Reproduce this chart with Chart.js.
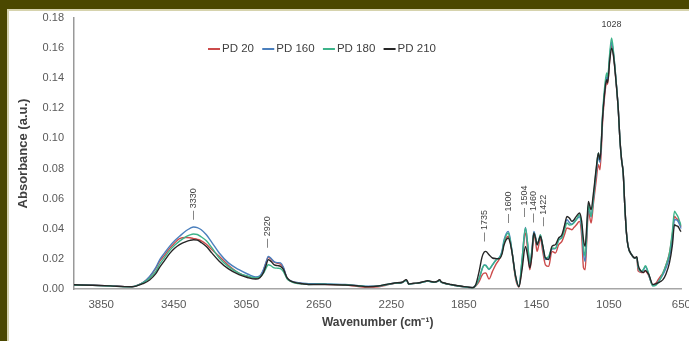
<!DOCTYPE html>
<html>
<head>
<meta charset="utf-8">
<script src="https://cdn.jsdelivr.net/npm/chart.js@4.4.1/dist/chart.umd.min.js"></script>
<style>
  html, body { margin: 0; padding: 0; width: 689px; height: 341px; overflow: hidden; background: #4b4800; }
  #panel { position: absolute; left: 7px; top: 9px; width: 720px; height: 360px; background: #fff; border-top: 2px solid #d6d3ad; border-left: 2px solid #d6d3ad; }
  #wrap { position: absolute; left: 0; top: 0; width: 700px; height: 341px; }
</style>
</head>
<body>
<div id="panel"></div>
<div id="wrap"><canvas id="chart"></canvas></div>
<script>
// Espectros FTIR (absorbancia vs numero de onda)
const wavenumbers = [
  4000, 3900, 3800, 3720, 3680, 3650, 3620, 3583, 3550, 3527, 3500, 3473, 3445, 3418, 3382, 3360, 3340, 3320, 3300, 3270, 3240, 3199, 3150, 3090, 3040,
  2998, 2975, 2955, 2940, 2929, 2915, 2895, 2875, 2861, 2845, 2825, 2800, 2779, 2740, 2706,
  2651, 2600, 2505, 2440, 2377, 2322, 2280, 2231, 2190, 2167, 2160, 2154, 2130, 2103, 2075, 2049, 2030, 2012, 1995, 1984, 1975, 1957, 1920, 1880, 1847, 1820, 1800,
  1784, 1765, 1750, 1738, 1729, 1711, 1692, 1670, 1656, 1640, 1628, 1605, 1595, 1583, 1565, 1546,
  1530, 1510, 1498, 1486, 1475, 1464, 1455, 1446, 1437, 1428, 1415, 1400, 1382, 1364, 1345, 1327, 1309,
  1295, 1281, 1267, 1254, 1242, 1230, 1212, 1200, 1190, 1181, 1172, 1163, 1148, 1135, 1120, 1108, 1099,
  1084, 1070, 1062, 1057, 1045, 1035, 1025, 1010, 998, 989, 980, 971, 962, 953, 944, 925, 907,
  896, 889, 871, 860, 848, 838, 829, 808, 790, 779, 765, 752, 735, 716, 700, 688, 679, 669, 657, 650
];

const pd20 = [
  0.0027, 0.0025, 0.0021, 0.0016, 0.0016, 0.0025, 0.0042, 0.008, 0.0135, 0.0185, 0.0225, 0.027, 0.0305, 0.0335, 0.0342, 0.034, 0.0335, 0.033, 0.0322, 0.0297, 0.0262, 0.0217, 0.016, 0.0106, 0.0082,
  0.007, 0.008, 0.0125, 0.018, 0.021, 0.02, 0.0178, 0.017, 0.0165, 0.014, 0.007, 0.005, 0.0043, 0.0036, 0.0032,
  0.0032, 0.003, 0.0026, 0.0018, 0.0011, 0.0014, 0.0025, 0.0037, 0.0043, 0.006, 0.0046, 0.0032, 0.0036, 0.0039, 0.0046, 0.0053, 0.0048, 0.0044, 0.005, 0.006, 0.0046, 0.0038, 0.0028, 0.002, 0.0014, 0.001, 0.0008,
  0.002, 0.005, 0.009, 0.0105, 0.0106, 0.0066, 0.0117, 0.017, 0.0195, 0.024, 0.0305, 0.035, 0.032, 0.0235, 0.007, 0.0013,
  0.015, 0.0372, 0.026, 0.0128, 0.022, 0.0361, 0.032, 0.025, 0.029, 0.0339, 0.025, 0.0161, 0.015, 0.025, 0.0239, 0.0294, 0.0316,
  0.036, 0.0405, 0.040, 0.0394, 0.041, 0.0425, 0.0449, 0.035, 0.014, 0.0128, 0.032, 0.0516, 0.0438, 0.057, 0.072, 0.0826, 0.0792,
  0.112, 0.132, 0.138, 0.136, 0.153, 0.162, 0.156, 0.137, 0.119, 0.099, 0.0859, 0.077, 0.0549, 0.0372, 0.0283, 0.0228, 0.0206,
  0.0205, 0.012, 0.011, 0.011, 0.012, 0.0105, 0.0085, 0.0025, 0.004, 0.006, 0.0085, 0.0106, 0.016, 0.0239, 0.036, 0.0482, 0.047, 0.046, 0.043, 0.041
];

const pd160 = [
  0.0027, 0.0025, 0.0021, 0.0016, 0.0016, 0.0025, 0.0042, 0.0084, 0.014, 0.0195, 0.024, 0.0283, 0.032, 0.035, 0.0387, 0.0403, 0.0412, 0.0408, 0.0395, 0.036, 0.031, 0.0239, 0.0175, 0.0128, 0.0098,
  0.008, 0.0088, 0.013, 0.018, 0.0217, 0.0205, 0.018, 0.0175, 0.0173, 0.0145, 0.0073, 0.0052, 0.0045, 0.0038, 0.0035,
  0.0035, 0.0034, 0.003, 0.0024, 0.0018, 0.002, 0.0028, 0.0038, 0.0043, 0.0058, 0.0046, 0.0032, 0.0036, 0.0039, 0.0046, 0.0052, 0.0048, 0.0044, 0.005, 0.0058, 0.0046, 0.0038, 0.0028, 0.002, 0.0014, 0.001, 0.0009,
  0.0025, 0.007, 0.013, 0.016, 0.0158, 0.013, 0.016, 0.0198, 0.0206, 0.025, 0.0327, 0.0383, 0.034, 0.0239, 0.0084, 0.0017,
  0.018, 0.0408, 0.03, 0.0168, 0.025, 0.0383, 0.035, 0.0294, 0.032, 0.0358, 0.028, 0.0195, 0.0205, 0.0265, 0.0268, 0.0325, 0.0345,
  0.041, 0.046, 0.044, 0.043, 0.0445, 0.046, 0.048, 0.04, 0.0239, 0.0183, 0.036, 0.055, 0.048, 0.06, 0.077, 0.088, 0.084,
  0.116, 0.135, 0.141, 0.139, 0.155, 0.164, 0.157, 0.138, 0.119, 0.099, 0.0859, 0.077, 0.0549, 0.0372, 0.0283, 0.0228, 0.0206,
  0.021, 0.0145, 0.0115, 0.0125, 0.015, 0.0125, 0.009, 0.0025, 0.003, 0.0045, 0.007, 0.0095, 0.014, 0.021, 0.032, 0.046, 0.046, 0.045, 0.042, 0.04
];

const pd180 = [
  0.0026, 0.0024, 0.002, 0.0015, 0.0015, 0.0024, 0.004, 0.0072, 0.0115, 0.0165, 0.021, 0.0255, 0.029, 0.0318, 0.0348, 0.036, 0.0365, 0.0362, 0.0348, 0.032, 0.0275, 0.0206, 0.015, 0.0106, 0.0085,
  0.0073, 0.008, 0.0105, 0.014, 0.0161, 0.0155, 0.014, 0.0138, 0.0135, 0.0115, 0.0068, 0.0048, 0.004, 0.0034, 0.003,
  0.0032, 0.0031, 0.0028, 0.0022, 0.0016, 0.0019, 0.0028, 0.0038, 0.0043, 0.0058, 0.0046, 0.0032, 0.0036, 0.0039, 0.0046, 0.0052, 0.0048, 0.0044, 0.005, 0.0058, 0.0046, 0.0038, 0.0028, 0.002, 0.0014, 0.001, 0.0008,
  0.0025, 0.007, 0.013, 0.0158, 0.0155, 0.0133, 0.0161, 0.0195, 0.0206, 0.024, 0.0316, 0.0372, 0.033, 0.0239, 0.0084, 0.0017,
  0.018, 0.0405, 0.03, 0.0173, 0.025, 0.0372, 0.034, 0.0294, 0.032, 0.036, 0.029, 0.0206, 0.0217, 0.0272, 0.027, 0.0327, 0.034,
  0.039, 0.0438, 0.0425, 0.0427, 0.044, 0.046, 0.0493, 0.042, 0.028, 0.0217, 0.038, 0.056, 0.0482, 0.061, 0.079, 0.0903, 0.086,
  0.118, 0.138, 0.1435, 0.141, 0.157, 0.1667, 0.158, 0.138, 0.119, 0.099, 0.0859, 0.077, 0.0549, 0.0372, 0.0283, 0.0228, 0.0206,
  0.021, 0.015, 0.0117, 0.013, 0.0155, 0.013, 0.0095, 0.002, 0.0025, 0.004, 0.007, 0.0106, 0.016, 0.0239, 0.038, 0.0516, 0.05, 0.048, 0.044, 0.042
];

const pd210 = [
  0.0028, 0.0025, 0.0021, 0.0016, 0.0015, 0.0022, 0.0035, 0.006, 0.010, 0.0145, 0.019, 0.0235, 0.027, 0.0295, 0.0315, 0.0323, 0.0327, 0.0325, 0.031, 0.0282, 0.024, 0.0185, 0.0135, 0.0095, 0.0075,
  0.0066, 0.0075, 0.011, 0.016, 0.0195, 0.0185, 0.016, 0.0155, 0.015, 0.013, 0.0075, 0.005, 0.0042, 0.0035, 0.003,
  0.003, 0.0029, 0.0027, 0.0022, 0.0016, 0.002, 0.003, 0.004, 0.0045, 0.0062, 0.0048, 0.0033, 0.0038, 0.004, 0.0048, 0.0055, 0.005, 0.0046, 0.0052, 0.0062, 0.0048, 0.004, 0.003, 0.0022, 0.0016, 0.0012, 0.001,
  0.003, 0.012, 0.021, 0.0245, 0.025, 0.0228, 0.0206, 0.0202, 0.0201, 0.023, 0.0294, 0.0339, 0.031, 0.0235, 0.009, 0.0015,
  0.012, 0.0283, 0.022, 0.014, 0.022, 0.0372, 0.034, 0.0294, 0.032, 0.035, 0.029, 0.0206, 0.0195, 0.0283, 0.0294, 0.0339, 0.036,
  0.042, 0.0482, 0.047, 0.0449, 0.046, 0.0482, 0.0505, 0.045, 0.0327, 0.0283, 0.042, 0.0582, 0.0527, 0.0638, 0.08, 0.0903, 0.0859,
  0.115, 0.134, 0.139, 0.137, 0.152, 0.160, 0.155, 0.137, 0.119, 0.099, 0.0859, 0.077, 0.0549, 0.0372, 0.0283, 0.0228, 0.0206,
  0.0215, 0.016, 0.0117, 0.011, 0.0124, 0.011, 0.0095, 0.003, 0.0035, 0.004, 0.005, 0.0062, 0.010, 0.0173, 0.029, 0.0427, 0.042, 0.0416, 0.039, 0.038
];

const seriesNames = ['PD 20', 'PD 160', 'PD 180', 'PD 210'];
const seriesColors = ['#cc4b4b', '#4a7fbd', '#3db38a', '#262626'];
const xTicks = [3850, 3450, 3050, 2650, 2250, 1850, 1450, 1050, 650];
const yTicks = [0, 0.02, 0.04, 0.06, 0.08, 0.10, 0.12, 0.14, 0.16, 0.18];

// Etiquetas de picos: texto, numero de onda, absorbancia de la base, rotada o no
const peakLabels = ['3330', '2920', '1735', '1600', '1504', '1460', '1422', '1028'];
const peakX = [3340, 2931, 1738, 1606, 1515, 1464, 1413, 1035];
const peakY = [0.046, 0.0274, 0.0316, 0.0438, 0.0478, 0.0442, 0.0416, 0.1755];
const peakRotated = [true, true, true, true, true, true, true, false];

const FONT = '"Liberation Sans", Arial, sans-serif';
const allSeries = [pd20, pd160, pd180, pd210];

const datasets = allSeries.map((vals, i) => ({
    label: seriesNames[i],
    data: wavenumbers.map((w, j) => ({ x: w, y: vals[j] })),
    borderColor: seriesColors[i],
    borderWidth: 1.4,
    pointRadius: 0,
    fill: false,
    cubicInterpolationMode: 'monotone',
    order: 3 - i
}));

const peakPlugin = {
    id: 'peaks',
    afterDatasetsDraw(chart) {
        const { ctx, scales } = chart;
        ctx.save();
        ctx.fillStyle = '#404040';
        ctx.font = '9px ' + FONT;
        peakLabels.forEach((txt, i) => {
            const x = scales.x.getPixelForValue(peakX[i]);
            const y = scales.y.getPixelForValue(peakY[i]);
            if (peakRotated[i]) {
                ctx.save();
                ctx.translate(x, y);
                ctx.rotate(-Math.PI / 2);
                ctx.textAlign = 'left';
                ctx.textBaseline = 'middle';
                ctx.fillText('\u2014 ' + txt, 0, 0);
                ctx.restore();
            } else {
                ctx.textAlign = 'center';
                ctx.textBaseline = 'middle';
                ctx.fillText(txt, x, y);
            }
        });
        ctx.restore();
    }
};

const legendPlugin = {
    id: 'lineLegend',
    afterDraw(chart) {
        const ctx = chart.ctx;
        ctx.save();
        ctx.font = '11.5px ' + FONT;
        ctx.textBaseline = 'middle';
        ctx.textAlign = 'left';
        let x = 208;
        const y = 49;
        seriesNames.forEach((name, i) => {
            ctx.strokeStyle = seriesColors[i];
            ctx.lineWidth = 2;
            ctx.beginPath();
            ctx.moveTo(x, y);
            ctx.lineTo(x + 12, y);
            ctx.stroke();
            ctx.fillStyle = '#404040';
            ctx.fillText(name, x + 14, y);
            x += 14 + ctx.measureText(name).width + 8.3;
        });
        ctx.restore();
    }
};

new Chart(document.getElementById('chart'), {
    type: 'line',
    data: { datasets },
    options: {
        responsive: true,
        maintainAspectRatio: false,
        animation: false,
        layout: { padding: { left: 13, top: 18, right: 15, bottom: 7 } },
        plugins: { legend: { display: false }, tooltip: { enabled: false } },
        scales: {
            x: {
                type: 'linear',
                reverse: true,
                min: 650,
                max: 4000,
                afterBuildTicks: s => { s.ticks = xTicks.map(v => ({ value: v })); },
                afterFit: s => { s.height = 45; },
                grid: { display: false, drawTicks: false },
                border: { color: '#a6a6a6', width: 1.5 },
                ticks: { color: '#595959', font: { family: FONT, size: 11.5 }, padding: 9, maxRotation: 0, autoSkip: false, callback: v => String(v) },
                title: { display: true, text: 'Wavenumber (cm\u207B\u00B9)', color: '#404040', font: { family: FONT, size: 12, weight: 'bold' }, padding: { top: 4, bottom: 4 } }
            },
            y: {
                min: 0,
                max: 0.18,
                afterBuildTicks: s => { s.ticks = yTicks.map(v => ({ value: v })); },
                afterFit: s => { s.width = 61; },
                grid: { display: false, drawTicks: false },
                border: { color: '#999999', width: 1.5 },
                ticks: { color: '#595959', font: { family: FONT, size: 11 }, padding: 10, callback: v => v.toFixed(2) },
                title: { display: true, text: 'Absorbance (a.u.)', color: '#404040', font: { family: FONT, size: 13, weight: 'bold' }, padding: { top: 3, bottom: 3 } }
            }
        }
    },
    plugins: [peakPlugin, legendPlugin]
});
</script>
</body>
</html>
